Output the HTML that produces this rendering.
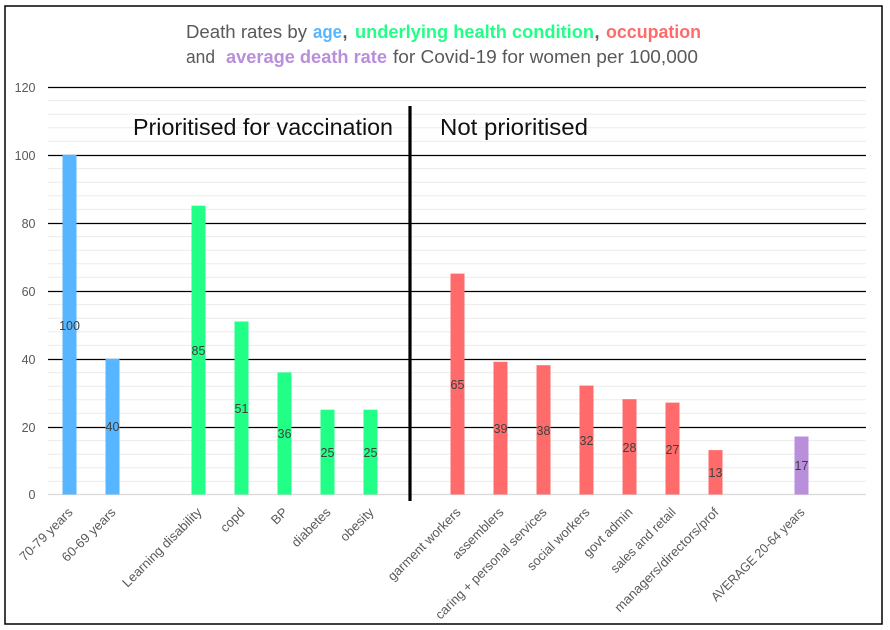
<!DOCTYPE html>
<html>
<head>
<meta charset="utf-8">
<style>
  html,body{margin:0;padding:0;background:#fff;}
  svg{display:block;}
  text{font-family:"Liberation Sans", Arial, sans-serif;}
</style>
</head>
<body>
<svg width="890" height="630" viewBox="0 0 890 630" xmlns="http://www.w3.org/2000/svg">
  <rect x="0" y="0" width="890" height="630" fill="#fff"/>
  <rect x="5" y="6" width="877" height="618" fill="#fff" stroke="#000" stroke-width="1.5"/>

  <!-- Title -->
  <g font-size="18" fill="#595959">
    <text x="186" y="38" textLength="121" lengthAdjust="spacingAndGlyphs">Death rates by</text>
    <text x="313" y="38" textLength="29" lengthAdjust="spacingAndGlyphs" font-weight="bold" fill="#57b6ff">age</text>
    <text x="342.5" y="38" font-weight="bold">,</text>
    <text x="355" y="38" textLength="239" lengthAdjust="spacingAndGlyphs" font-weight="bold" fill="#22ff86">underlying health condition</text>
    <text x="594.5" y="38" font-weight="bold">,</text>
    <text x="606" y="38" textLength="95" lengthAdjust="spacingAndGlyphs" font-weight="bold" fill="#ff6b6b">occupation</text>

    <text x="186" y="63" textLength="29" lengthAdjust="spacingAndGlyphs">and</text>
    <text x="226" y="63" textLength="161" lengthAdjust="spacingAndGlyphs" font-weight="bold" fill="#b98edb">average death rate</text>
    <text x="393" y="63" textLength="305" lengthAdjust="spacingAndGlyphs">for Covid-19 for women per 100,000</text>
  </g>

  <!-- minor gridlines -->
  <g stroke="#ececec" stroke-width="1">
    <line x1="48" x2="866" y1="100.6" y2="100.6"/>
    <line x1="48" x2="866" y1="114.2" y2="114.2"/>
    <line x1="48" x2="866" y1="127.8" y2="127.8"/>
    <line x1="48" x2="866" y1="141.4" y2="141.4"/>
    <line x1="48" x2="866" y1="168.6" y2="168.6"/>
    <line x1="48" x2="866" y1="182.2" y2="182.2"/>
    <line x1="48" x2="866" y1="195.8" y2="195.8"/>
    <line x1="48" x2="866" y1="209.4" y2="209.4"/>
    <line x1="48" x2="866" y1="236.6" y2="236.6"/>
    <line x1="48" x2="866" y1="250.2" y2="250.2"/>
    <line x1="48" x2="866" y1="263.8" y2="263.8"/>
    <line x1="48" x2="866" y1="277.4" y2="277.4"/>
    <line x1="48" x2="866" y1="304.6" y2="304.6"/>
    <line x1="48" x2="866" y1="318.2" y2="318.2"/>
    <line x1="48" x2="866" y1="331.8" y2="331.8"/>
    <line x1="48" x2="866" y1="345.4" y2="345.4"/>
    <line x1="48" x2="866" y1="372.6" y2="372.6"/>
    <line x1="48" x2="866" y1="386.2" y2="386.2"/>
    <line x1="48" x2="866" y1="399.8" y2="399.8"/>
    <line x1="48" x2="866" y1="413.4" y2="413.4"/>
    <line x1="48" x2="866" y1="440.6" y2="440.6"/>
    <line x1="48" x2="866" y1="454.2" y2="454.2"/>
    <line x1="48" x2="866" y1="467.8" y2="467.8"/>
    <line x1="48" x2="866" y1="481.4" y2="481.4"/>
  </g>
  <!-- major gridlines -->
  <g stroke="#000" stroke-width="1.2">
    <line x1="48" x2="866" y1="87.5" y2="87.5"/>
    <line x1="48" x2="866" y1="155.5" y2="155.5"/>
    <line x1="48" x2="866" y1="223.5" y2="223.5"/>
    <line x1="48" x2="866" y1="291.5" y2="291.5"/>
    <line x1="48" x2="866" y1="359.5" y2="359.5"/>
    <line x1="48" x2="866" y1="427.5" y2="427.5"/>
  </g>
  <line x1="48" x2="866" y1="494.5" y2="494.5" stroke="#d9d9d9" stroke-width="1.2"/>

  <!-- y labels -->
  <g font-size="12.5" fill="#595959" text-anchor="end">
    <text x="35.5" y="92">120</text>
    <text x="35.5" y="160">100</text>
    <text x="35.5" y="228">80</text>
    <text x="35.5" y="296">60</text>
    <text x="35.5" y="364">40</text>
    <text x="35.5" y="432">20</text>
    <text x="35.5" y="499">0</text>
  </g>

  <!-- bars -->
  <g>
    <rect x="62.5" y="154.8" width="14" height="339.7" fill="#57b6ff"/>
    <rect x="105.5" y="358.8" width="14" height="135.7" fill="#57b6ff"/>
    <rect x="191.5" y="205.7" width="14" height="288.8" fill="#22ff86"/>
    <rect x="234.5" y="321.5" width="14" height="173" fill="#22ff86"/>
    <rect x="277.5" y="372.4" width="14" height="122.1" fill="#22ff86"/>
    <rect x="320.5" y="409.7" width="14" height="84.8" fill="#22ff86"/>
    <rect x="363.5" y="409.7" width="14" height="84.8" fill="#22ff86"/>
    <rect x="450.5" y="273.6" width="14" height="220.9" fill="#ff6b6b"/>
    <rect x="493.5" y="361.8" width="14" height="132.7" fill="#ff6b6b"/>
    <rect x="536.5" y="365.2" width="14" height="129.3" fill="#ff6b6b"/>
    <rect x="579.5" y="385.6" width="14" height="108.9" fill="#ff6b6b"/>
    <rect x="622.5" y="399.2" width="14" height="95.3" fill="#ff6b6b"/>
    <rect x="665.5" y="402.6" width="14" height="91.9" fill="#ff6b6b"/>
    <rect x="708.5" y="450.1" width="14" height="44.4" fill="#ff6b6b"/>
    <rect x="794.5" y="436.5" width="14" height="58" fill="#b98edb"/>
  </g>

  <!-- data labels -->
  <g font-size="12.5" fill="#404040" text-anchor="middle">
    <text x="69.5" y="330">100</text>
    <text x="112.5" y="431">40</text>
    <text x="198.5" y="355">85</text>
    <text x="241.5" y="413">51</text>
    <text x="284.5" y="438">36</text>
    <text x="327.5" y="457">25</text>
    <text x="370.5" y="457">25</text>
    <text x="457.5" y="389">65</text>
    <text x="500.5" y="433">39</text>
    <text x="543.5" y="435">38</text>
    <text x="586.5" y="445">32</text>
    <text x="629.5" y="452">28</text>
    <text x="672.5" y="454">27</text>
    <text x="715.5" y="477">13</text>
    <text x="801.5" y="470">17</text>
  </g>

  <!-- divider -->
  <line x1="410" x2="410" y1="106" y2="501" stroke="#000" stroke-width="3.2"/>

  <!-- section labels -->
  <g font-size="23.5" fill="#111">
    <text x="133" y="135" textLength="260" lengthAdjust="spacingAndGlyphs">Prioritised for vaccination</text>
    <text x="440" y="135" textLength="148" lengthAdjust="spacingAndGlyphs">Not prioritised</text>
  </g>

  <!-- x labels -->
  <g font-size="13" fill="#595959" text-anchor="end">
    <text transform="translate(73.5,513) rotate(-45)" textLength="69" lengthAdjust="spacingAndGlyphs">70-79 years</text>
    <text transform="translate(116.5,513) rotate(-45)" textLength="70" lengthAdjust="spacingAndGlyphs">60-69 years</text>
    <text transform="translate(202.5,513) rotate(-45)" textLength="106" lengthAdjust="spacingAndGlyphs">Learning disability</text>
    <text transform="translate(245.5,513) rotate(-45)">copd</text>
    <text transform="translate(288.5,513) rotate(-45)">BP</text>
    <text transform="translate(331.5,513) rotate(-45)">diabetes</text>
    <text transform="translate(374.5,513) rotate(-45)">obesity</text>
    <text transform="translate(461.5,513) rotate(-45)">garment workers</text>
    <text transform="translate(504.5,513) rotate(-45)">assemblers</text>
    <text transform="translate(547.5,513) rotate(-45)">caring + personal services</text>
    <text transform="translate(590.5,513) rotate(-45)">social workers</text>
    <text transform="translate(633.5,513) rotate(-45)">govt admin</text>
    <text transform="translate(676.5,513) rotate(-45)" textLength="86" lengthAdjust="spacingAndGlyphs">sales and retail</text>
    <text transform="translate(719.5,513) rotate(-45)" textLength="141" lengthAdjust="spacingAndGlyphs">managers/directors/prof</text>
    <text transform="translate(805.5,513) rotate(-45)" textLength="126" lengthAdjust="spacingAndGlyphs">AVERAGE 20-64 years</text>
  </g>
</svg>
</body>
</html>
